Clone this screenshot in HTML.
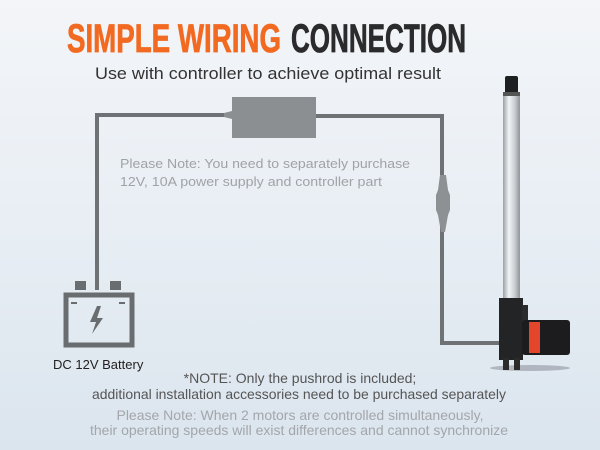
<!DOCTYPE html>
<html><head><meta charset="utf-8"><style>
html,body{margin:0;padding:0;width:600px;height:450px;overflow:hidden}
body{background:linear-gradient(180deg,#f3f5f8 0%,#e8eef4 50%,#dbe5ee 100%)}
svg{display:block}
</style></head><body>
<svg width="600" height="450" viewBox="0 0 600 450" xmlns="http://www.w3.org/2000/svg" font-family="Liberation Sans, sans-serif">
<defs>
<linearGradient id="rod" x1="0" x2="1"><stop offset="0" stop-color="#9aa0a6"/><stop offset=".35" stop-color="#f2f4f6"/><stop offset=".7" stop-color="#c8ccd0"/><stop offset="1" stop-color="#8e949a"/></linearGradient>
</defs>
<text x="67" y="52" font-size="40" font-weight="bold" textLength="214" lengthAdjust="spacingAndGlyphs" fill="#f26a21" stroke="#f26a21" stroke-width="0.8">SIMPLE WIRING</text>
<text x="291" y="52" font-size="40" font-weight="bold" textLength="175" lengthAdjust="spacingAndGlyphs" fill="#2b2b2d" stroke="#2b2b2d" stroke-width="0.8">CONNECTION</text>
<text x="95" y="79" font-size="17" textLength="346" lengthAdjust="spacingAndGlyphs" fill="#333">Use with controller to achieve optimal result</text>
<path d="M97 290 V115 H232" fill="none" stroke="#6f7274" stroke-width="4"/>
<path d="M316 116 H442 V343 H500" fill="none" stroke="#6f7274" stroke-width="4"/>
<rect x="232" y="97" width="84" height="41" fill="#8c8f92"/>
<path d="M224 113 L232 111 V119 L224 117Z" fill="#8c8f92"/>
<path d="M440 175 L446 175 L448 190 L450 195 V210 L448 215 L445 232 L441 232 L438 215 L436 210 V195 L438 190Z" fill="#8e9194"/>
<rect x="75" y="281" width="11" height="9" fill="#6a6d70"/>
<rect x="110" y="281" width="11" height="9" fill="#6a6d70"/>
<rect x="66" y="295" width="66" height="50" fill="none" stroke="#6a6d70" stroke-width="5"/>
<rect x="71" y="302" width="6" height="2" fill="#6a6d70"/>
<rect x="119" y="302" width="6" height="2" fill="#6a6d70"/>
<path d="M97 306 L90 322 H96 L92 334 L103 318 H97 L101 306Z" fill="#6a6d70"/>
<text x="53" y="369" font-size="13" fill="#222">DC 12V Battery</text>
<text x="120" y="168" font-size="13" fill="#a0a3a6" textLength="290" lengthAdjust="spacingAndGlyphs">Please Note: You need to separately purchase</text>
<text x="120" y="186" font-size="13" fill="#a0a3a6" textLength="262" lengthAdjust="spacingAndGlyphs">12V, 10A power supply and controller part</text>
<ellipse cx="530" cy="368" rx="40" ry="3" fill="#556" opacity=".35"/>
<rect x="505" y="76" width="13" height="18" rx="2" fill="#1e1f21"/>
<rect x="503" y="92" width="17" height="4" fill="#555"/>
<rect x="503" y="96" width="17" height="205" fill="url(#rod)"/>
<rect x="499" y="298" width="24" height="62" fill="#232426"/>
<rect x="522" y="305" width="6" height="20" fill="#2a2b2d"/>
<rect x="522" y="320" width="48" height="35" rx="3" fill="#1c1c1e"/>
<rect x="529" y="322" width="11" height="31" fill="#e4462c"/>
<rect x="503" y="358" width="6" height="12" fill="#2a2a2a"/>
<rect x="514" y="358" width="6" height="12" fill="#2a2a2a"/>
<text x="300" y="383" font-size="14" fill="#555" text-anchor="middle">*NOTE: Only the pushrod is included;</text>
<text x="92" y="399" font-size="14" fill="#555" textLength="414" lengthAdjust="spacingAndGlyphs">additional installation accessories need to be purchased separately</text>
<text x="300" y="420" font-size="14" fill="#a3a6aa" text-anchor="middle">Please Note: When 2 motors are controlled simultaneously,</text>
<text x="90" y="435" font-size="14" fill="#a3a6aa" textLength="418" lengthAdjust="spacingAndGlyphs">their operating speeds will exist differences and cannot synchronize</text>
</svg>
</body></html>
